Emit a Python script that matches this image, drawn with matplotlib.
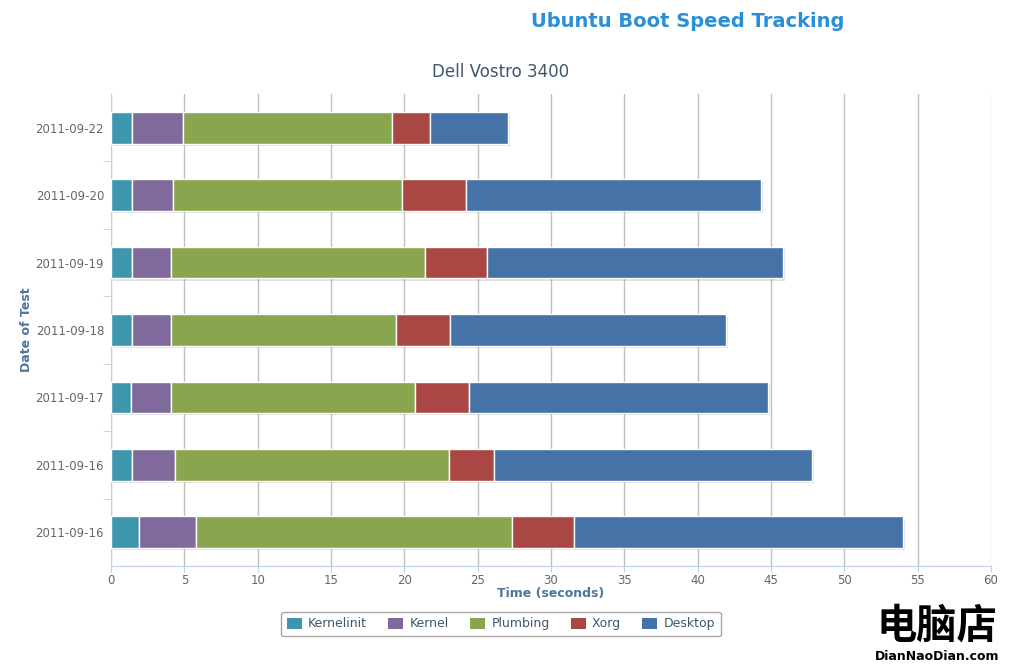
import numpy as np
import matplotlib
matplotlib.use('Agg')
import matplotlib.pyplot as plt
import matplotlib.patheffects as pe
from matplotlib.ticker import MultipleLocator, FixedLocator

# Data, listed top to bottom as in the chart
dates = ['2011-09-22', '2011-09-20', '2011-09-19', '2011-09-18',
         '2011-09-17', '2011-09-16', '2011-09-16']
series = ['Kernelinit', 'Kernel', 'Plumbing', 'Xorg', 'Desktop']
kernelinit = [1.43, 1.43, 1.43, 1.43, 1.36, 1.43, 1.91]
kernel = [3.48, 2.80, 2.66, 2.66, 2.73, 2.93, 3.86]
plumbing = [14.25, 15.61, 17.32, 15.34, 16.64, 18.69, 21.55]
xorg = [2.59, 4.36, 4.23, 3.68, 3.68, 3.06, 4.27]
desktop = [5.32, 20.12, 20.18, 18.82, 20.39, 21.69, 22.41]
colors = ['#3D96AE', '#80699B', '#89A54E', '#AA4643', '#4572A7']

matplotlib.rcParams['font.family'] = ['DejaVu Sans']
fig = plt.figure(figsize=(10.11, 6.67), dpi=100)
ax = fig.add_axes([0.1098, 0.1514, 0.8704, 0.7076])

y = np.arange(len(dates))
left = np.zeros(len(dates))
shadow = [pe.SimplePatchShadow(offset=(1.5, -1.5), shadow_rgbFace='#000000', alpha=0.12), pe.Normal()]
for name, vals, c in zip(series, [kernelinit, kernel, plumbing, xorg, desktop], colors):
    bars = ax.barh(y, vals, left=left, height=0.47, color=c, edgecolor='white',
                   linewidth=1, label=name, zorder=3)
    for b in bars:
        b.set_path_effects(shadow)
    left += np.array(vals)

ax.set_xlim(0, 60)
ax.set_ylim(len(dates) - 0.5, -0.5)

# x axis
ax.xaxis.set_major_locator(MultipleLocator(5))
ax.grid(axis='x', color='#C0C0C0', linewidth=1, zorder=0)
ax.set_axisbelow(True)
ax.tick_params(axis='x', colors='#C0D0E0', length=4, pad=2, labelcolor='#666666', labelsize=8.5)
ax.set_xlabel('Time (seconds)', color='#4D759E', fontsize=9, fontweight='bold', labelpad=0)

# y axis: labels at centres, ticks between categories
ax.set_yticks(y)
ax.set_yticklabels(dates)
ax.yaxis.set_minor_locator(FixedLocator(np.arange(0.5, len(dates) - 1, 1)))
ax.tick_params(axis='y', which='major', length=0, pad=5, labelcolor='#666666', labelsize=8.5)
ax.tick_params(axis='y', which='minor', length=6, color='#C0D0E0')
ax.set_ylabel('Date of Test', color='#4D759E', fontsize=9, fontweight='bold', labelpad=2)

for s in ['top', 'right']:
    ax.spines[s].set_visible(False)
ax.spines['left'].set_color('#C0D0E0')
ax.spines['bottom'].set_color('#C0D0E0')

# titles
fig.text(0.68, 0.968, 'Ubuntu Boot Speed Tracking', ha='center', va='center',
         fontsize=14, fontweight='bold', color='#2A8FD6')
fig.text(0.4955, 0.892, 'Dell Vostro 3400', ha='center', va='center',
         fontsize=12, color='#3E576F')

# legend
leg = fig.legend(loc='center', bbox_to_anchor=(0.4955, 0.0645), ncol=5, frameon=True,
                 fontsize=9, handlelength=1.2, handleheight=1.0, columnspacing=1.7,
                 handletextpad=0.5, borderpad=0.45, fancybox=True)
leg.get_frame().set_edgecolor('#909090')
leg.get_frame().set_linewidth(1)
for t in leg.get_texts():
    t.set_color('#3E576F')
for h in leg.legend_handles:
    h.set_path_effects([])
    h.set_edgecolor('none')

# watermark
fig.text(0.927, 0.062, '电脑店', ha='center', va='center', fontsize=29, fontweight='bold',
         family=['Noto Sans CJK SC', 'DejaVu Sans'], color='black')
fig.text(0.927, 0.016, 'DianNaoDian.com', ha='center', va='center', fontsize=9,
         fontweight='bold', color='black')

fig.savefig('out.png', dpi=100)
